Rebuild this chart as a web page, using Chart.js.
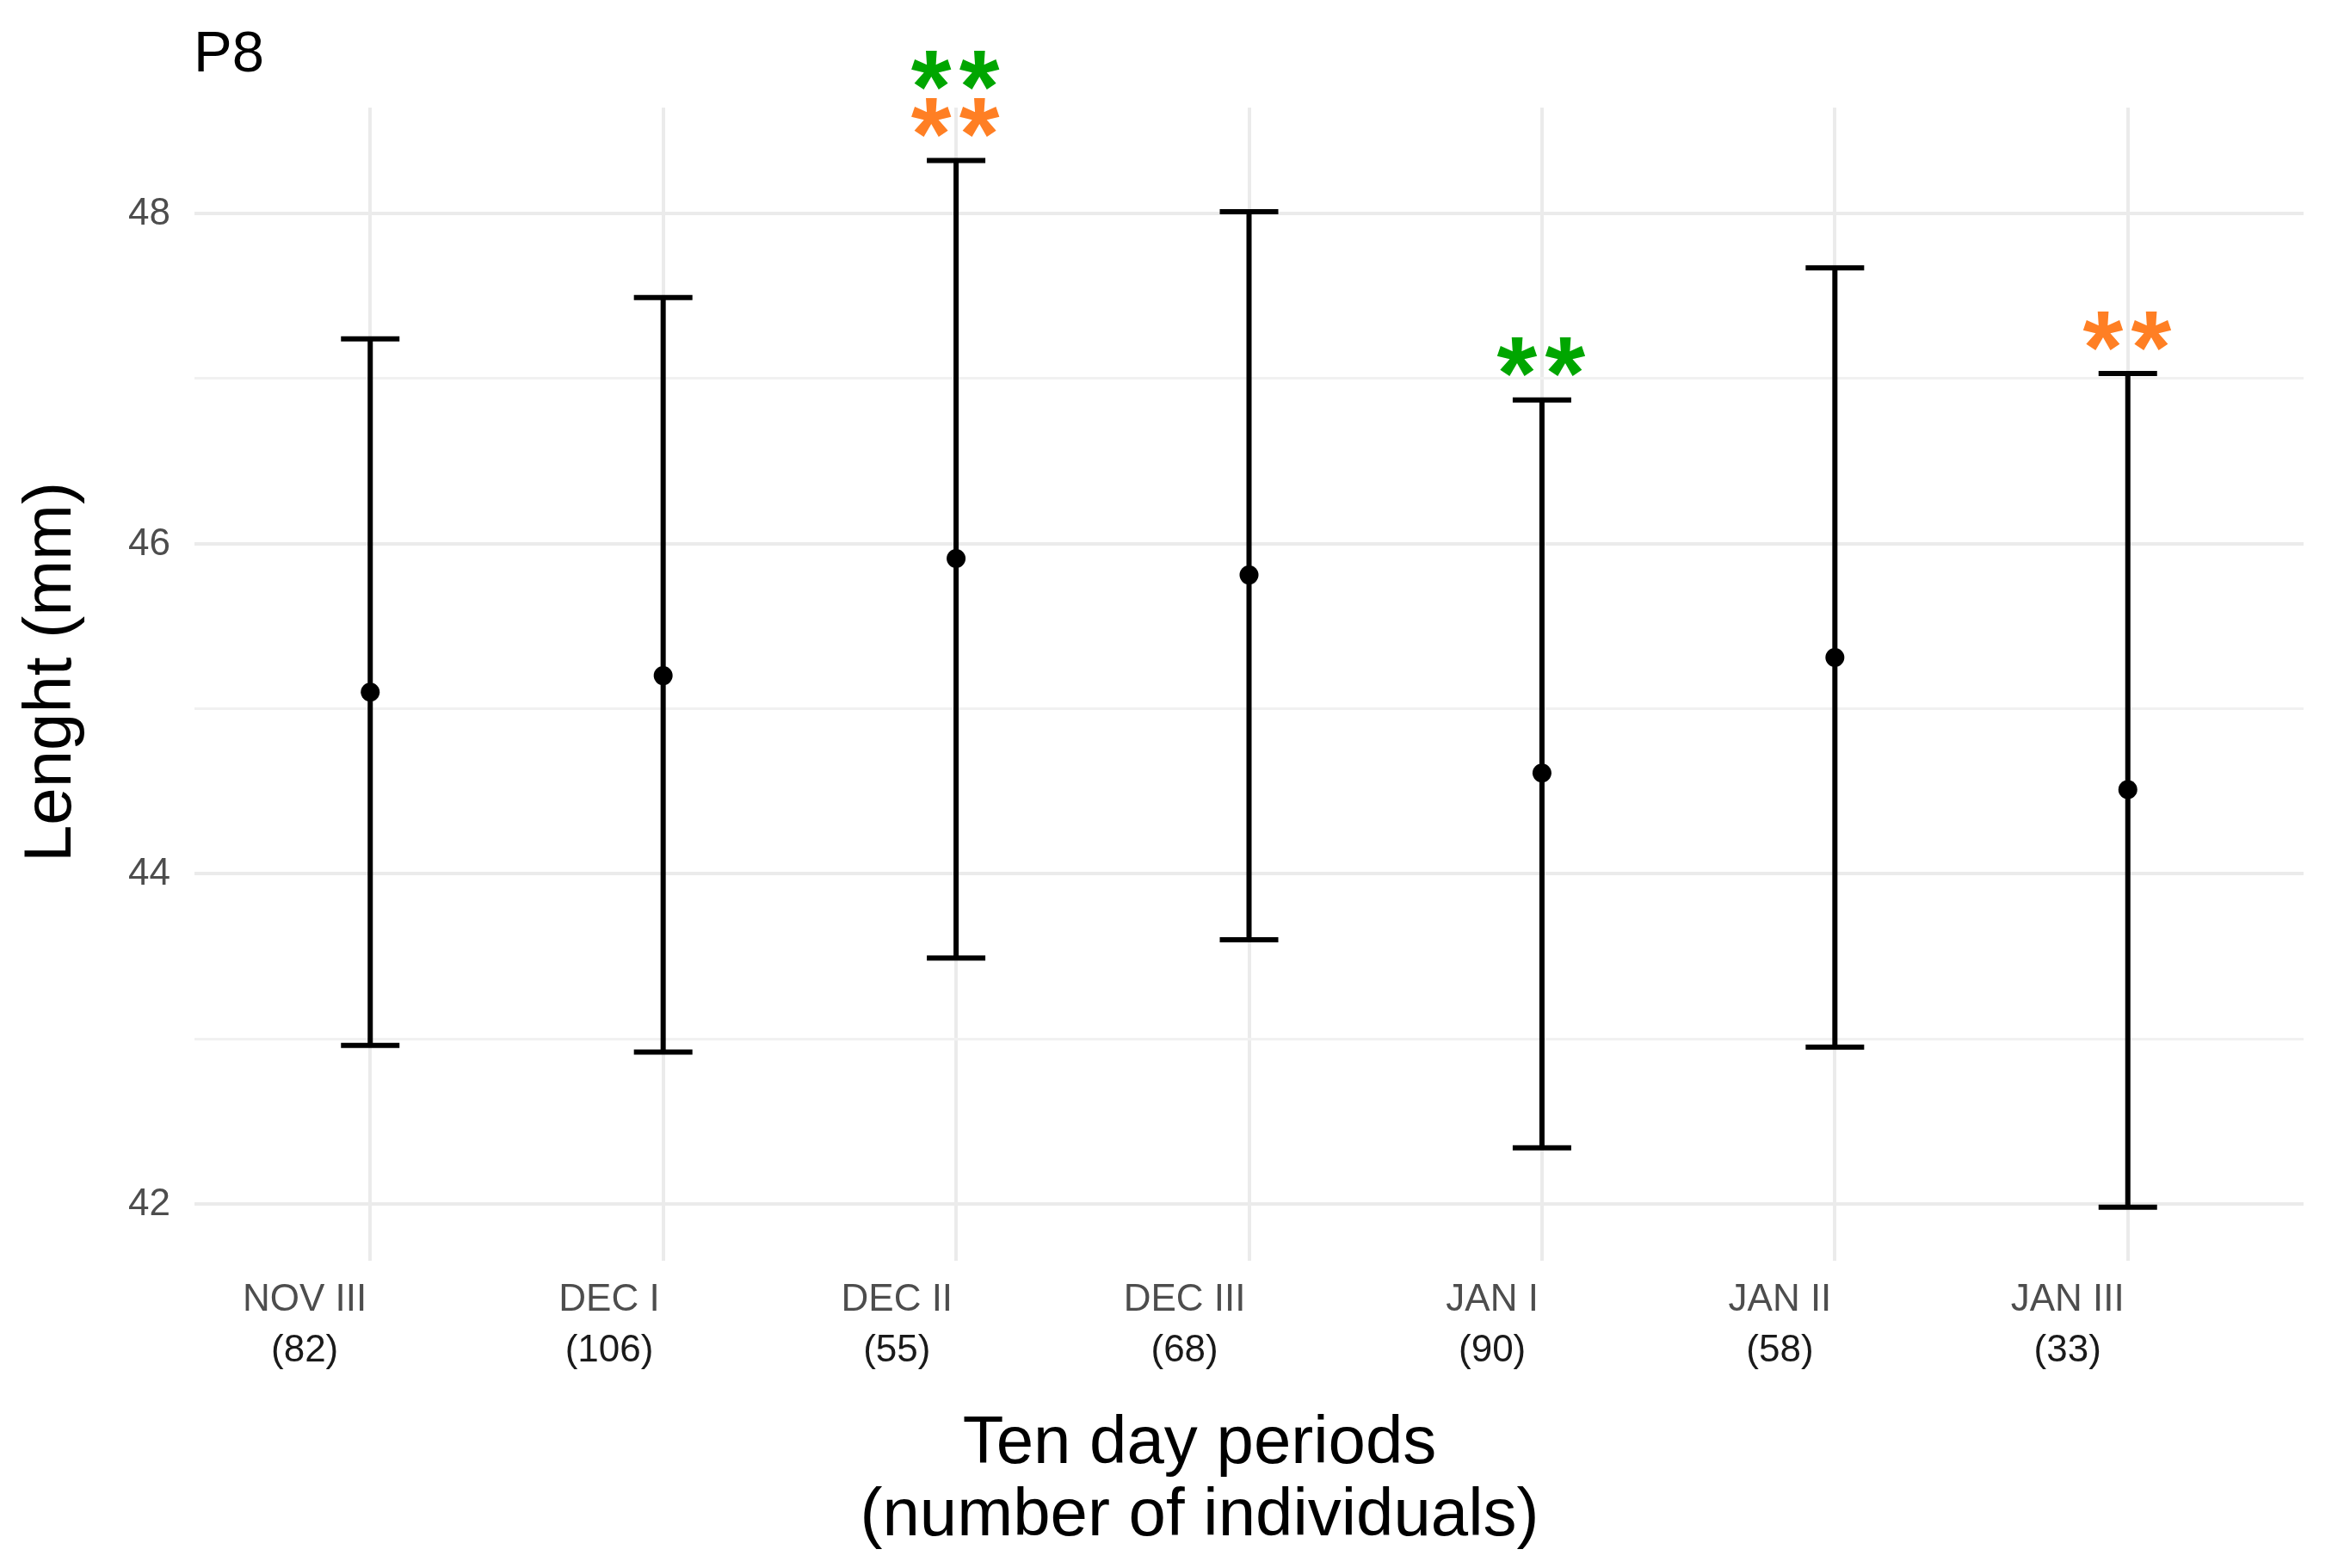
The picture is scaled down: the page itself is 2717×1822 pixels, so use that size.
<!DOCTYPE html>
<html>
<head>
  <title>P8 - Lenght by ten day periods</title>
  <script src="https://cdn.jsdelivr.net/npm/chart.js"></script>
  <style>
    body { margin: 0; background: #fff; }
    canvas { display: block; }
  </style>
</head>
<body>
  <canvas id="chart" width="2717" height="1822"></canvas>

  <script>
    // data
    const categories = ['NOV III', 'DEC I', 'DEC II', 'DEC III', 'JAN I', 'JAN II', 'JAN III'];
    const counts = [82, 106, 55, 68, 90, 58, 33];
    const means = [45.10, 45.20, 45.91, 45.81, 44.61, 45.31, 44.51];
    const lower = [42.96, 42.92, 43.49, 43.60, 42.34, 42.95, 41.98];
    const upper = [47.24, 47.49, 48.32, 48.01, 46.87, 47.67, 47.03];
    const yMajorTicks = [42, 44, 46, 48];
    const yMinorTicks = [43, 45, 47];
    const orangeStars = ['DEC II', 'JAN III'];
    const greenStars = ['DEC II', 'JAN I'];

    const FONT = '"Liberation Sans", Arial, sans-serif';
    const ORANGE = '#FF7F24';
    const GREEN = '#00A600';

    const errorBars = {
      id: 'errorBars',
      beforeDatasetsDraw(chart) {
        const { ctx, scales: { x, y } } = chart;
        ctx.save();
        ctx.strokeStyle = '#000';
        ctx.lineWidth = 6;
        ctx.lineCap = 'butt';
        categories.forEach((c, i) => {
          const px = x.getPixelForValue(i);
          const yl = y.getPixelForValue(lower[i]);
          const yu = y.getPixelForValue(upper[i]);
          ctx.beginPath();
          ctx.moveTo(px, yl);
          ctx.lineTo(px, yu);
          ctx.moveTo(px - 34, yu);
          ctx.lineTo(px + 34, yu);
          ctx.moveTo(px - 34, yl);
          ctx.lineTo(px + 34, yl);
          ctx.stroke();
        });
        ctx.restore();
      },
      afterDraw(chart) {
        const { ctx, scales: { x, y } } = chart;
        ctx.save();

        // y tick labels
        ctx.fillStyle = '#4D4D4D';
        ctx.font = '44px ' + FONT;
        ctx.textAlign = 'right';
        ctx.textBaseline = 'middle';
        yMajorTicks.forEach(v => {
          ctx.fillText(String(v), 198, y.getPixelForValue(v) + 1);
        });

        // x tick labels: block right-aligned on the tick, lines centred in block
        ctx.textBaseline = 'alphabetic';
        ctx.textAlign = 'center';
        categories.forEach((c, i) => {
          const px = x.getPixelForValue(i) - 4;
          const l1 = c, l2 = '(' + counts[i] + ')';
          ctx.font = '44px ' + FONT;
          const w = Math.max(ctx.measureText(l1).width, ctx.measureText(l2).width);
          const cx = px - w / 2;
          ctx.fillStyle = '#4D4D4D';
          ctx.fillText(l1, cx, 1523);
          ctx.fillStyle = '#1A1A1A';
          ctx.fillText(l2, cx, 1582);
        });

        // significance stars
        ctx.font = 'bold 120px ' + FONT;
        ctx.textAlign = 'center';
        const m = ctx.measureText('*');
        const shift = (m.actualBoundingBoxAscent - m.actualBoundingBoxDescent) / 2;
        categories.forEach((c, i) => {
          const rows = [];
          if (orangeStars.includes(c)) rows.push(ORANGE);
          if (greenStars.includes(c)) rows.push(GREEN);
          const px = x.getPixelForValue(i) - 1;
          const yu = y.getPixelForValue(upper[i]);
          rows.forEach((col, k) => {
            ctx.fillStyle = col;
            const cy = yu - 50 - 55 * k + shift;
            ctx.fillText('*', px - 28, cy);
            ctx.fillText('*', px + 28, cy);
          });
        });

        // panel tag
        ctx.fillStyle = '#000';
        ctx.textAlign = 'left';
        ctx.font = '67px ' + FONT;
        ctx.fillText('P8', 225, 83);

        // axis titles
        ctx.font = '78px ' + FONT;
        ctx.textAlign = 'center';
        ctx.fillText('Ten day periods', 1394, 1700);
        ctx.fillText('(number of individuals)', 1394, 1784);

        ctx.translate(82, 781);
        ctx.rotate(-Math.PI / 2);
        ctx.fillText('Lenght (mm)', 0, 0);
        ctx.restore();
      }
    };

    const ctx = document.getElementById('chart').getContext('2d');

    const chart = new Chart(ctx, {
      type: 'scatter',
      data: {
        datasets: [{
          label: 'Mean',
          data: means.map((m, i) => ({ x: i, y: m })),
          backgroundColor: '#000',
          borderWidth: 0,
          pointRadius: 11,
          pointHoverRadius: 11
        }]
      },
      options: {
        responsive: false,
        animation: false,
        devicePixelRatio: 1,
        layout: { padding: { left: 226, right: 40, top: 125, bottom: 357 } },
        plugins: {
          legend: { display: false },
          tooltip: { enabled: false }
        },
        scales: {
          x: {
            type: 'linear',
            min: -0.6,
            max: 6.6,
            afterBuildTicks: s => { s.ticks = categories.map((c, i) => ({ value: i })); },
            ticks: { display: false },
            border: { display: false },
            grid: { color: '#EBEBEB', lineWidth: 4, drawTicks: false }
          },
          y: {
            min: 41.656,
            max: 48.641,
            afterBuildTicks: s => {
              s.ticks = yMajorTicks.concat(yMinorTicks).sort((a, b) => a - b).map(v => ({ value: v }));
            },
            ticks: { display: false },
            border: { display: false },
            grid: {
              color: c => yMajorTicks.includes(c.tick.value) ? '#EBEBEB' : '#F1F1F1',
              lineWidth: c => yMajorTicks.includes(c.tick.value) ? 4 : 3,
              drawTicks: false
            }
          }
        }
      },
      plugins: [errorBars]
    });
  </script>
</body>
</html>
